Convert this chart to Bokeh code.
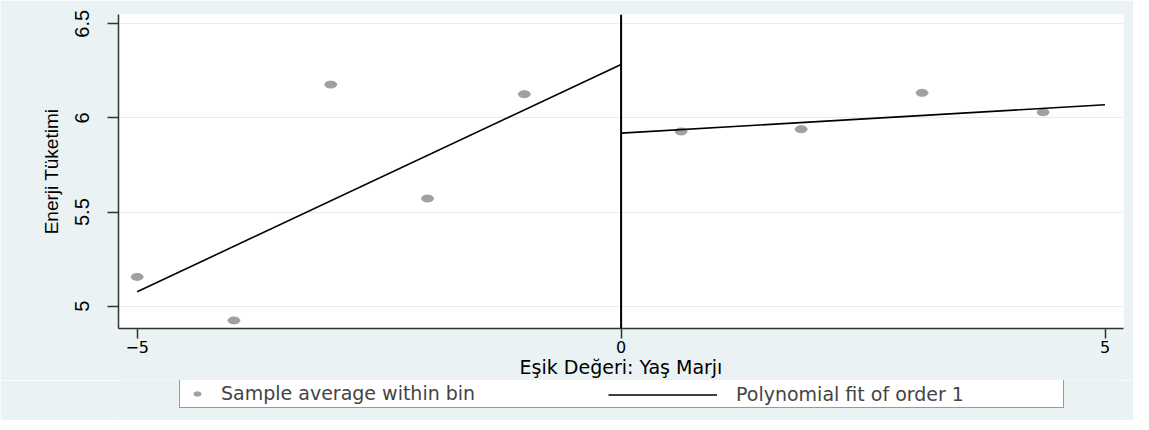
from bokeh.plotting import figure
from bokeh.layouts import column
from bokeh.models import Range1d, Span, Legend, LegendItem, FixedTicker
from bokeh.embed import file_html
from bokeh.resources import INLINE

# ---- data ----
bin_x = [-5, -4, -3, -2, -1, 0.62, 1.86, 3.11, 4.36]
bin_y = [5.156, 4.925, 6.177, 5.572, 6.126, 5.928, 5.940, 6.133, 6.030]
fit_left_x = [-5, 0]
fit_left_y = [5.077, 6.284]
fit_right_x = [0, 5]
fit_right_y = [5.919, 6.070]
cutoff = 0
x_ticks = [-5, 0, 5]
y_ticks = [5, 5.5, 6, 6.5]
y_tick_labels = {5: "5", 5.5: "5.5", 6: "6", 6.5: "6.5"}
x_title = "Eşik Değeri: Yaş Marjı"
y_title = "Enerji Tüketimi"
legend_labels = ["Sample average within bin", "Polynomial fit of order 1"]

BG = "#eaf2f3"
PT = "#a0a0a0"

p = figure(width=1133, height=380, output_backend="svg", toolbar_location=None,
           x_range=Range1d(-5.193, 5.191), y_range=Range1d(4.882, 6.549),
           min_border_left=118, min_border_right=10, min_border_top=14, min_border_bottom=49)
p.border_fill_color = BG
p.background_fill_color = "white"
p.outline_line_color = None

pts = p.ellipse(x=bin_x, y=bin_y, width=12, height=7, width_units="screen",
                height_units="screen", fill_color=PT, line_color=PT)
l1 = p.line(fit_left_x, fit_left_y, line_color="black", line_width=1.6)
l2 = p.line(fit_right_x, fit_right_y, line_color="black", line_width=1.6)
p.add_layout(Span(location=cutoff, dimension="height", line_color="black", line_width=2))

# grid
p.xgrid.visible = False
p.ygrid.ticker = FixedTicker(ticks=y_ticks)
p.ygrid.grid_line_color = "#e6eff0"
p.ygrid.grid_line_width = 1

# axes
for ax in (p.xaxis[0], p.yaxis[0]):
    ax.axis_line_color = "#333333"
    ax.axis_line_width = 1.5
    ax.major_tick_line_color = "#333333"
    ax.major_tick_line_width = 1.5
    ax.major_tick_in = 0
    ax.minor_tick_line_color = None
    ax.major_label_text_color = "black"
    ax.axis_label_text_color = "black"
    ax.axis_label_text_font_style = "normal"

p.xaxis.ticker = FixedTicker(ticks=x_ticks)
p.xaxis.major_tick_out = 10
p.xaxis.major_label_standoff = 2
p.xaxis.major_label_text_font = "DejaVu Sans"
p.xaxis.major_label_text_font_size = "16px"
p.xaxis.axis_label = x_title
p.xaxis.axis_label_text_font = "DejaVu Sans"
p.xaxis.axis_label_text_font_size = "19px"
p.xaxis.axis_label_standoff = 0

p.yaxis.ticker = FixedTicker(ticks=y_ticks)
p.yaxis.major_label_overrides = y_tick_labels
p.yaxis.major_tick_out = 11
p.yaxis.major_label_orientation = "vertical"
p.yaxis.major_label_standoff = 18
p.yaxis.major_label_text_font = "Liberation Sans Narrow, Liberation Sans"
p.yaxis.major_label_text_font_size = "20px"
p.yaxis.axis_label = y_title
p.yaxis.axis_label_text_font = "Liberation Sans"
p.yaxis.axis_label_text_font_size = "19px"
p.yaxis.axis_label_standoff = 11

# ---- legend strip (separate figure below the plot; its frame aligns with the plot's) ----
lg = figure(width=1133, height=40, output_backend="svg", toolbar_location=None,
            x_axis_type=None, y_axis_type=None,
            min_border_left=118, min_border_right=10, min_border_top=0, min_border_bottom=0,
            x_range=Range1d(0, 1), y_range=Range1d(0, 1))
lg.border_fill_color = BG
lg.background_fill_color = BG
lg.outline_line_color = None
lg.xgrid.visible = False
lg.ygrid.visible = False

# legend proxies (placed outside the visible range of the strip)
proxy_pts = lg.ellipse(x=[-10], y=[-10], width=10, height=6, width_units="screen",
                       height_units="screen", fill_color=PT, line_color=PT)
proxy_line = lg.line(x=[-10, -9], y=[-10, -10], line_color="black", line_width=1.6)

leg1 = Legend(items=[LegendItem(label=legend_labels[0], renderers=[proxy_pts])],
              location=(61, 12), orientation="horizontal",
              padding=3, margin=0, glyph_width=28, glyph_height=9,
              label_standoff=10, label_width=839, label_height=22,
              label_text_font="DejaVu Sans", label_text_font_size="19px",
              border_line_color="#333333", border_line_width=1.5,
              background_fill_color="white", background_fill_alpha=1)
leg2 = Legend(items=[LegendItem(label=legend_labels[1], renderers=[proxy_line])],
              location=(487, 12), orientation="horizontal",
              padding=3, margin=0, glyph_width=109, glyph_height=9,
              label_standoff=19, label_height=22,
              label_text_font="DejaVu Sans", label_text_font_size="19px",
              border_line_alpha=0, background_fill_alpha=0)
lg.add_layout(leg1)
lg.add_layout(leg2)

layout = column(p, lg, spacing=0)
open("out.html", "w").write(file_html(layout, INLINE))
